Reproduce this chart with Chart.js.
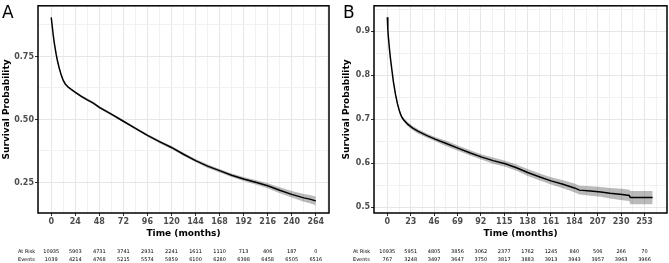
<!DOCTYPE html>
<html>
<head>
<meta charset="utf-8">
<script src="https://cdn.jsdelivr.net/npm/chart.js@4.4.0/dist/chart.umd.min.js"></script>
<style>
  html, body { margin: 0; padding: 0; background: #fff; }
  #wrap { position: relative; width: 669px; height: 263px; }
  canvas { position: absolute; top: 0; }
</style>
</head>
<body>
<div id="wrap">
  <canvas id="chartA" width="335" height="263" style="left:0px"></canvas>
  <canvas id="chartB" width="334" height="263" style="left:335px"></canvas>
</div>
<script>
// Panel A
const timesA = [0, 1, 2, 3, 4, 5, 6, 8, 10, 12, 14, 17, 20, 24, 30, 36, 42, 48, 60, 72, 84, 96, 108, 120, 132, 144, 156, 168, 180, 192, 204, 216, 228, 240, 252, 258, 264];
const survA = [0.905, 0.870, 0.835, 0.805, 0.780, 0.757, 0.737, 0.703, 0.676, 0.655, 0.641, 0.628, 0.619, 0.608, 0.592, 0.578, 0.565, 0.548, 0.521, 0.493, 0.465, 0.437, 0.412, 0.389, 0.362, 0.337, 0.315, 0.297, 0.279, 0.264, 0.251, 0.237, 0.219, 0.203, 0.189, 0.184, 0.177];
const upperA = [0.909, 0.874, 0.839, 0.809, 0.784, 0.761, 0.741, 0.707, 0.680, 0.659, 0.645, 0.632, 0.623, 0.612, 0.597, 0.583, 0.570, 0.553, 0.526, 0.498, 0.470, 0.442, 0.418, 0.395, 0.368, 0.343, 0.322, 0.304, 0.286, 0.272, 0.260, 0.247, 0.231, 0.216, 0.204, 0.200, 0.194];
const lowerA = [0.901, 0.866, 0.831, 0.801, 0.776, 0.753, 0.733, 0.699, 0.672, 0.651, 0.637, 0.624, 0.615, 0.604, 0.587, 0.573, 0.560, 0.543, 0.516, 0.488, 0.460, 0.432, 0.406, 0.383, 0.356, 0.331, 0.308, 0.290, 0.272, 0.256, 0.242, 0.227, 0.207, 0.190, 0.174, 0.168, 0.160];
const xTicksA = [0, 24, 48, 72, 96, 120, 144, 168, 192, 216, 240, 264];
const xMinorA = [12, 36, 60, 84, 108, 132, 156, 180, 204, 228, 252, 276];
const yTicksA = [0.25, 0.5, 0.75];
const yLabelsA = ['0.25', '0.50', '0.75'];
const yMinorA = [0.375, 0.625, 0.875];
const atRiskA = [10935, 5903, 4731, 3741, 2931, 2241, 1611, 1110, 713, 406, 187, 0];
const eventsA = [1039, 4214, 4768, 5215, 5574, 5859, 6100, 6280, 6398, 6458, 6505, 6516];

// Panel B
const timesB = [0, 0.5, 1, 2, 3, 4.5, 6, 8, 10, 12, 14, 16, 20, 25, 30, 39, 47, 58, 70, 81, 93, 104, 116, 127, 138, 150, 161, 172, 184, 189, 200, 210, 219, 231, 238, 239, 261];
const survB = [0.932, 0.905, 0.888, 0.862, 0.840, 0.812, 0.785, 0.757, 0.735, 0.718, 0.706, 0.699, 0.689, 0.680, 0.673, 0.663, 0.655, 0.645, 0.634, 0.624, 0.614, 0.606, 0.599, 0.590, 0.579, 0.569, 0.560, 0.553, 0.544, 0.539, 0.537, 0.535, 0.532, 0.529, 0.527, 0.522, 0.522];
const upperB = [0.935, 0.908, 0.891, 0.865, 0.843, 0.815, 0.788, 0.761, 0.739, 0.722, 0.710, 0.703, 0.694, 0.685, 0.678, 0.668, 0.660, 0.651, 0.640, 0.630, 0.620, 0.613, 0.606, 0.597, 0.587, 0.577, 0.568, 0.562, 0.554, 0.549, 0.548, 0.546, 0.544, 0.542, 0.540, 0.537, 0.537];
const lowerB = [0.929, 0.902, 0.885, 0.859, 0.837, 0.809, 0.782, 0.753, 0.731, 0.714, 0.702, 0.695, 0.684, 0.675, 0.668, 0.658, 0.650, 0.639, 0.628, 0.618, 0.608, 0.599, 0.592, 0.583, 0.571, 0.561, 0.552, 0.544, 0.534, 0.529, 0.526, 0.524, 0.520, 0.516, 0.514, 0.507, 0.507];
const xTicksB = [0, 23, 46, 69, 92, 115, 138, 161, 184, 207, 230, 253];
const xMinorB = [11.5, 34.5, 57.5, 80.5, 103.5, 126.5, 149.5, 172.5, 195.5, 218.5, 241.5, 264.5];
const yTicksB = [0.5, 0.6, 0.7, 0.8, 0.9];
const yLabelsB = ['0.5', '0.6', '0.7', '0.8', '0.9'];
const yMinorB = [0.55, 0.65, 0.75, 0.85, 0.95];
const atRiskB = [10935, 5951, 4805, 3856, 3062, 2377, 1762, 1245, 840, 506, 266, 70];
const eventsB = [767, 3248, 3497, 3647, 3750, 3817, 3883, 3913, 3943, 3957, 3963, 3966];

Chart.defaults.font.family = '"DejaVu Sans", sans-serif';

function toPoints(xs, ys) {
  return xs.map((x, i) => ({ x: x, y: ys[i] }));
}

function allTicks(majors, minors) {
  return majors.concat(minors).sort((a, b) => a - b).map(v => ({ value: v }));
}

// border box, panel letter and the risk table under the axis
const panelExtras = {
  id: 'panelExtras',
  afterDraw(chart, args, opts) {
    const ctx = chart.ctx;
    const area = chart.chartArea;
    const xScale = chart.scales.x;
    ctx.save();
    ctx.strokeStyle = '#000';
    ctx.lineWidth = 1.5;
    ctx.strokeRect(area.left, area.top, area.right - area.left, area.bottom - area.top);

    ctx.fillStyle = '#000';
    ctx.font = '17px "DejaVu Sans"';
    ctx.textAlign = 'left';
    ctx.textBaseline = 'alphabetic';
    ctx.fillText(opts.letter, opts.letterX, 18);

    ctx.font = '5px "DejaVu Sans"';
    ctx.textBaseline = 'middle';
    ctx.fillText('At Risk', 18, 252);
    ctx.fillText('Events', 18, 260);
    ctx.textAlign = 'center';
    opts.times.forEach((t, i) => {
      const x = xScale.getPixelForValue(t);
      ctx.fillText(String(opts.atRisk[i]), x, 252);
      ctx.fillText(String(opts.events[i]), x, 260);
    });
    ctx.restore();
  }
};

function makePanel(id, p) {
  const ctx = document.getElementById(id).getContext('2d');
  return new Chart(ctx, {
    type: 'line',
    data: {
      datasets: [
        {
          data: toPoints(p.times, p.upper),
          borderWidth: 0,
          pointRadius: 0,
          fill: false
        },
        {
          data: toPoints(p.times, p.lower),
          borderWidth: 0,
          pointRadius: 0,
          fill: '-1',
          backgroundColor: 'rgba(0,0,0,0.27)'
        },
        {
          data: toPoints(p.times, p.surv),
          borderColor: '#000',
          borderWidth: 1.5,
          pointRadius: 0,
          fill: false,
          tension: 0
        }
      ]
    },
    options: {
      responsive: false,
      animation: false,
      devicePixelRatio: 1,
      layout: { padding: { top: 1, right: p.padRight, left: 0, bottom: 0 } },
      plugins: {
        legend: { display: false },
        tooltip: { enabled: false },
        panelExtras: {
          letter: p.letter,
          letterX: p.letterX,
          times: p.xTicks,
          atRisk: p.atRisk,
          events: p.events
        }
      },
      scales: {
        x: {
          type: 'linear',
          min: p.xMin,
          max: p.xMax,
          afterBuildTicks: s => { s.ticks = allTicks(p.xTicks, p.xMinor); },
          afterFit: s => { s.height = 50; },
          ticks: {
            autoSkip: false,
            maxRotation: 0,
            padding: 1,
            color: '#4d4d4d',
            font: { size: 8, weight: 'bold' },
            callback: v => p.xTicks.includes(v) ? String(v) : ''
          },
          grid: {
            tickLength: 3,
            color: c => p.xTicks.includes(c.tick.value) ? '#e6e6e6' : '#f1f1f1',
            tickColor: c => p.xTicks.includes(c.tick.value) ? '#333' : 'rgba(0,0,0,0)'
          },
          border: { display: false },
          title: {
            display: true,
            text: 'Time (months)',
            color: '#000',
            font: { size: 9, weight: 'bold' },
            padding: { top: 0, bottom: 24 }
          }
        },
        y: {
          type: 'linear',
          min: p.yMin,
          max: p.yMax,
          afterBuildTicks: s => { s.ticks = allTicks(p.yTicks, p.yMinor); },
          afterFit: s => { s.width = p.yWidth; },
          ticks: {
            autoSkip: false,
            padding: 1,
            color: '#4d4d4d',
            font: { size: 8, weight: 'bold' },
            callback: v => {
              const i = p.yTicks.indexOf(v);
              return i >= 0 ? p.yLabels[i] : '';
            }
          },
          grid: {
            tickLength: 3,
            color: c => p.yTicks.includes(c.tick.value) ? '#e6e6e6' : '#f1f1f1',
            tickColor: c => p.yTicks.includes(c.tick.value) ? '#333' : 'rgba(0,0,0,0)'
          },
          border: { display: false },
          title: {
            display: true,
            text: 'Survival Probability',
            color: '#000',
            font: { size: 9, weight: 'bold' },
            padding: { top: p.yTitlePad, bottom: 0 }
          }
        }
      }
    },
    plugins: [panelExtras]
  });
}

makePanel('chartA', {
  letter: 'A', letterX: 2,
  times: timesA, surv: survA, upper: upperA, lower: lowerA,
  xTicks: xTicksA, xMinor: xMinorA, xMin: -13.2, xMax: 277.2,
  yTicks: yTicksA, yLabels: yLabelsA, yMinor: yMinorA, yMin: 0.129, yMax: 0.951,
  atRisk: atRiskA, events: eventsA,
  yWidth: 38, yTitlePad: 1, padRight: 6
});

makePanel('chartB', {
  letter: 'B', letterX: 8,
  times: timesB, surv: survB, upper: upperB, lower: lowerB,
  xTicks: xTicksB, xMinor: xMinorB, xMin: -13.1, xMax: 275.1,
  yTicks: yTicksB, yLabels: yLabelsB, yMinor: yMinorB, yMin: 0.487, yMax: 0.958,
  atRisk: atRiskB, events: eventsB,
  yWidth: 39, yTitlePad: 6, padRight: 2
});
</script>
</body>
</html>
